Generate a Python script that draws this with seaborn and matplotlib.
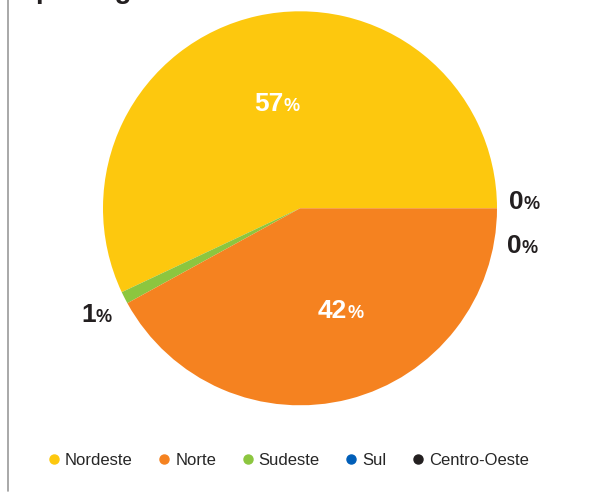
import matplotlib
matplotlib.use("Agg")
import matplotlib.pyplot as plt
from matplotlib.lines import Line2D
import seaborn as sns

# ---- data ----
regions = ["Nordeste", "Norte", "Sudeste", "Sul", "Centro-Oeste"]
shares = [57, 42, 1, 0, 0]
colors = ["#FDC80E", "#F58220", "#8CC63F", "#005EB8", "#231F20"]
# order in which slices go round the pie (counter-clockwise from 3 o'clock)
draw_order = ["Nordeste", "Sudeste", "Norte", "Sul", "Centro-Oeste"]
title_text = "por região"

sns.set_theme(style="white")
plt.rcParams["font.family"] = ["Liberation Sans", "DejaVu Sans"]

W, H = 602, 494
fig = plt.figure(figsize=(W / 100, H / 100), dpi=100)
fig.patch.set_facecolor("white")

cx, cy, r = 300, 208.3, 197
ax = fig.add_axes([(cx - r) / W, (H - cy - r) / H, 2 * r / W, 2 * r / H])

idx = [regions.index(n) for n in draw_order]
vals = [shares[i] for i in idx]
cols = [colors[i] for i in idx]
ax.pie(vals, colors=cols, startangle=0, counterclock=True,
       wedgeprops=dict(linewidth=0), radius=1)
ax.set_xlim(-1, 1)
ax.set_ylim(-1, 1)
ax.set_aspect("equal")
ax.axis("off")

# label anchors (junction between number and % sign), in pie-radius units
label_pos = {
    "Nordeste": (-0.086, 0.495, "white"),
    "Norte": (0.239, -0.558, "white"),
    "Sudeste": (-1.036, -0.576, "#231F20"),
    "Sul": (1.133, -0.005, "#231F20"),
    "Centro-Oeste": (1.124, -0.228, "#231F20"),
}
for name, val in zip(regions, shares):
    x, y, c = label_pos[name]
    ax.text(x, y, f"{val}", ha="right", va="baseline", fontsize=19,
            fontweight="bold", color=c)
    ax.text(x, y, "%", ha="left", va="baseline", fontsize=13,
            fontweight="bold", color=c)

# legend
handles = [Line2D([], [], linestyle="none", marker="o", markersize=6.5,
                  markerfacecolor=c, markeredgecolor=c) for c in colors]
fig.legend(handles, regions, loc="center", ncol=5,
           bbox_to_anchor=(289 / W, 1 - 460.7 / H), frameon=False,
           fontsize=12, handlelength=0.6, handletextpad=0.35,
           columnspacing=1.6, borderpad=0)

# title (cropped at top of image)
fig.text(36 / W, 1 + 1.5 / H, title_text, ha="left", va="baseline",
         fontsize=20, fontweight="bold", color="#231F20")

# left frame line
fig.add_artist(Line2D([7.5 / W, 7.5 / W], [1, 1 - 491 / H],
                      transform=fig.transFigure, color="#9A9A9A", linewidth=1.2))

fig.savefig("out.png", dpi=100, facecolor="white")
